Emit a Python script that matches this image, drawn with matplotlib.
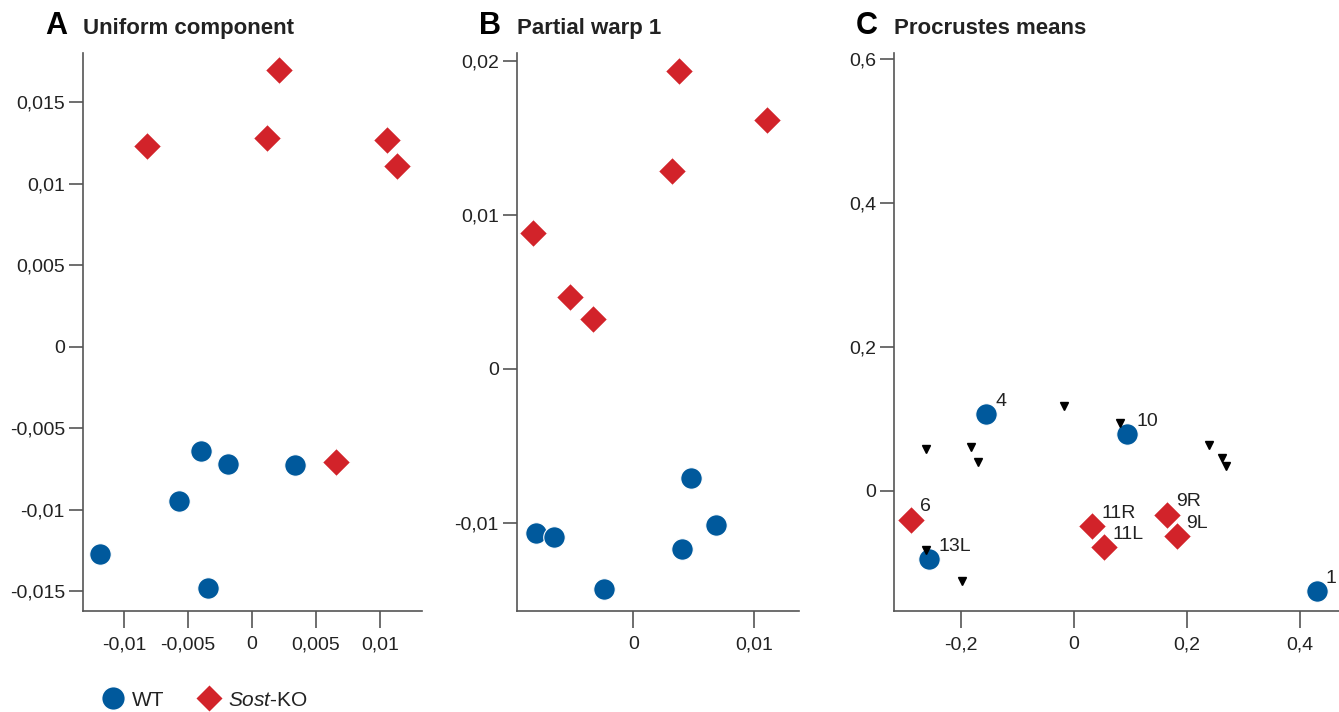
import matplotlib

matplotlib.use("Agg")

import matplotlib.pyplot as plt
from matplotlib.lines import Line2D
from matplotlib.ticker import FuncFormatter

plt.rcParams["font.family"] = ["Liberation Sans", "DejaVu Sans"]
plt.rcParams["axes.unicode_minus"] = False
plt.rcParams["mathtext.fontset"] = "custom"
plt.rcParams["mathtext.rm"] = "Liberation Sans"
plt.rcParams["mathtext.it"] = "Liberation Sans:italic"

BLUE = "#00599c"
RED = "#d2232a"
SPINE = "#555555"
TEXT = "#222222"

# Panel A - uniform component
a_wt_x = [-0.00398, -0.00188, 0.00336, -0.0057, -0.01187, -0.00344]
a_wt_y = [-0.00638, -0.00718, -0.00724, -0.00945, -0.0127, -0.01479]
a_ko_x = [-0.0082, 0.0021, 0.00117, 0.01055, 0.01133, 0.00656]
a_ko_y = [0.01227, 0.01693, 0.01282, 0.01264, 0.0111, -0.00706]
a_xticks = [-0.01, -0.005, 0, 0.005, 0.01]
a_yticks = [-0.015, -0.01, -0.005, 0, 0.005, 0.01, 0.015]

# Panel B - partial warp 1
b_wt_x = [-0.00802, -0.00653, -0.0024, 0.00479, 0.00405, 0.00686]
b_wt_y = [-0.01065, -0.01091, -0.01429, -0.00708, -0.01169, -0.01013]
b_ko_x = [-0.00826, -0.00521, -0.0033, 0.0038, 0.00322, 0.01107]
b_ko_y = [0.00883, 0.00468, 0.00325, 0.01935, 0.01286, 0.01617]
b_xticks = [0, 0.01]
b_yticks = [-0.01, 0, 0.01, 0.02]

# Panel C - Procrustes means
c_wt_labels = ["4", "10", "13L", "1"]
c_wt_x = [-0.1558, 0.0938, -0.2566, 0.430]
c_wt_y = [0.107, 0.079, -0.0944, -0.139]
c_ko_labels = ["6", "11R", "11L", "9R", "9L"]
c_ko_x = [-0.2885, 0.032, 0.053, 0.165, 0.182]
c_ko_y = [-0.040, -0.049, -0.078, -0.033, -0.0625]
c_tri_x = [-0.0177, 0.081, -0.262, -0.182, -0.170, 0.239, 0.262, 0.269, -0.262, -0.198]
c_tri_y = [0.118, 0.094, 0.058, 0.061, 0.040, 0.064, 0.046, 0.035, -0.082, -0.125]
c_xticks = [-0.2, 0, 0.2, 0.4]
c_yticks = [0, 0.2, 0.4, 0.6]

W, H = 1339, 712


def comma_fmt(v, pos=None):
    v = round(v, 6)
    if v == 0:
        return "0"
    return f"{v:g}".replace(".", ",")


def make_axes(fig, left_px, right_px, letter, title):
    bottom_px, top_px = 611, 53
    ax = fig.add_axes([left_px / W, 1 - bottom_px / H,
                       (right_px - left_px) / W, (bottom_px - top_px) / H])
    for side in ("top", "right"):
        ax.spines[side].set_visible(False)
    for side in ("left", "bottom"):
        ax.spines[side].set_color(SPINE)
        ax.spines[side].set_linewidth(1.2)
    ax.tick_params(axis="y", length=10, width=1.2, color=SPINE, pad=3,
                   labelsize=14, labelcolor=TEXT)
    ax.tick_params(axis="x", length=12, width=1.2, color=SPINE, pad=6,
                   labelsize=14, labelcolor=TEXT)
    ax.xaxis.set_major_formatter(FuncFormatter(comma_fmt))
    ax.yaxis.set_major_formatter(FuncFormatter(comma_fmt))
    fig.text((left_px - 16) / W, 1 - 34 / H, letter, ha="right", va="baseline",
             fontsize=22, fontweight="bold", color="black")
    fig.text(left_px / W, 1 - 34 / H, title, ha="left", va="baseline",
             fontsize=16, fontweight="bold", color=TEXT)
    return ax


def draw_groups(ax, wt_x, wt_y, ko_x, ko_y):
    ax.plot(wt_x, wt_y, "o", ms=15.5, color=BLUE, mec="white", mew=0.8,
            linestyle="none", clip_on=False, zorder=3)
    ax.plot(ko_x, ko_y, "D", ms=14.5, color=RED, mec="white", mew=0.8,
            linestyle="none", clip_on=False, zorder=3)


fig = plt.figure(figsize=(W / 100, H / 100), dpi=100)

ax_a = make_axes(fig, 83, 422, "A", "Uniform component")
draw_groups(ax_a, a_wt_x, a_wt_y, a_ko_x, a_ko_y)
ax_a.set_xlim(-0.0132, 0.0133)
ax_a.set_ylim(-0.0162, 0.0180)
ax_a.set_xticks(a_xticks)
ax_a.set_yticks(a_yticks)

ax_b = make_axes(fig, 517, 799, "B", "Partial warp 1")
draw_groups(ax_b, b_wt_x, b_wt_y, b_ko_x, b_ko_y)
ax_b.set_xlim(-0.0096, 0.0137)
ax_b.set_ylim(-0.0157, 0.0205)
ax_b.set_xticks(b_xticks)
ax_b.set_yticks(b_yticks)

ax_c = make_axes(fig, 894, 1339, "C", "Procrustes means")
draw_groups(ax_c, c_wt_x, c_wt_y, c_ko_x, c_ko_y)
ax_c.plot(c_tri_x, c_tri_y, "v", ms=5.5, color="black", linestyle="none",
          zorder=4, clip_on=False)
for lab, x, y in zip(c_wt_labels + c_ko_labels, c_wt_x + c_ko_x, c_wt_y + c_ko_y):
    ax_c.annotate(lab, (x, y), xytext=(6.5, 6), textcoords="offset points",
                  ha="left", va="baseline", fontsize=14, color=TEXT,
                  annotation_clip=False, zorder=5)
ax_c.set_xlim(-0.3186, 0.469)
ax_c.set_ylim(-0.1667, 0.608)
ax_c.set_xticks(c_xticks)
ax_c.set_yticks(c_yticks)

handles = [
    Line2D([], [], marker="o", ms=17, color=BLUE, mec="white", linestyle="none"),
    Line2D([], [], marker="D", ms=14.5, color=RED, mec="white", linestyle="none"),
]
fig.legend(handles, ["WT", r"$\mathit{Sost}$-KO"], loc="center left",
           bbox_to_anchor=(100 / W, 1 - 700 / H), ncol=2, frameon=False,
           fontsize=15, handlelength=1.2, handletextpad=0.35, columnspacing=1.5,
           borderpad=0, borderaxespad=0, labelcolor=TEXT)

fig.savefig("out.png", dpi=100)
